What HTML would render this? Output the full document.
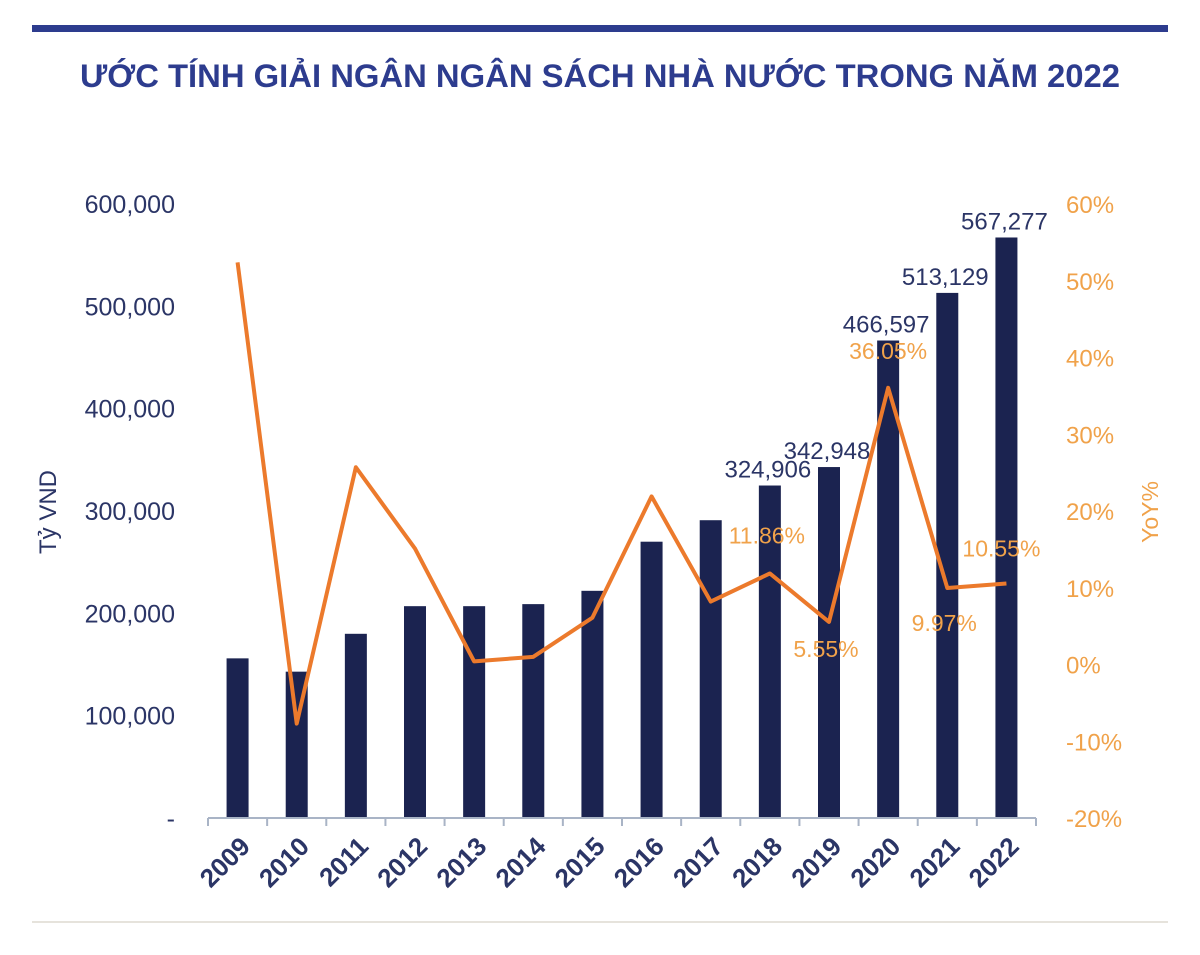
<!DOCTYPE html>
<html><head><meta charset="utf-8">
<style>
html,body{margin:0;padding:0;background:#fff;}
body{width:1200px;height:950px;overflow:hidden;font-family:"Liberation Sans",sans-serif;}
</style></head>
<body>
<svg id="chart" width="1200" height="950" viewBox="0 0 1200 950" xmlns="http://www.w3.org/2000/svg">
<rect x="32" y="25" width="1136" height="7" fill="#2d3c8e"/>
<text x="600" y="87" text-anchor="middle" font-size="32" font-weight="bold" fill="#2d3c8e" textLength="1040" lengthAdjust="spacingAndGlyphs" font-family="Liberation Sans, sans-serif">ƯỚC TÍNH GIẢI NGÂN NGÂN SÁCH NHÀ NƯỚC TRONG NĂM 2022</text>
<line x1="32" y1="922" x2="1168" y2="922" stroke="#e6e3dc" stroke-width="2"/>
<g id="plot"></g>
</svg>
<script>
const years = ['2009','2010','2011','2012','2013','2014','2015','2016','2017','2018','2019','2020','2021','2022'];
const budget = [156000,143000,180000,207000,207000,209000,222000,270000,291000,324906,342948,466597,513129,567277];
const yoy = [52.4,-7.7,25.7,15.1,0.4,1.0,6.1,21.9,8.2,11.86,5.55,36.05,9.97,10.55];
const budgetLabels = ['','','','','','','','','','324,906','342,948','466,597','513,129','567,277'];
const yoyLabels = ['','','','','','','','','','11.86%','5.55%','36.05%','9.97%','10.55%'];
const leftTicks = [0,100000,200000,300000,400000,500000,600000];
const leftTickLabels = ['-','100,000','200,000','300,000','400,000','500,000','600,000'];
const rightTicks = [-20,-10,0,10,20,30,40,50,60];
const rightTickLabels = ['-20%','-10%','0%','10%','20%','30%','40%','50%','60%'];

const NS='http://www.w3.org/2000/svg';
const g=document.getElementById('plot');
const x0=208,x1=1036,yBase=818,yTop=204;
const step=(x1-x0)/years.length;
const xc=i=>x0+step*(i+0.5);
const yL=v=>yBase-(v/600000)*(yBase-yTop);
const yR=v=>yBase-((v+20)/80)*(yBase-yTop);
function el(t,a,txt){const e=document.createElementNS(NS,t);for(const k in a)e.setAttribute(k,a[k]);if(txt!==undefined)e.textContent=txt;g.appendChild(e);return e;}
const navy='#1b2350',orange='#ec7a2c',olab='#f0a24a';
leftTicks.forEach((v,i)=>{
  const t=el('text',{x:175,y:yL(v)+9,'text-anchor':'end','font-size':25,fill:'#2b3566'},leftTickLabels[i]);
  
  
});
rightTicks.forEach((v,i)=>{
  const t=el('text',{x:1066,y:yR(v)+9,'font-size':24,fill:olab},rightTickLabels[i]);
  
  
});
let t=el('text',{x:0,y:0,transform:'translate(56,512) rotate(-90)','text-anchor':'middle','font-size':24,fill:'#2b3566'},'Tỷ VND');


t=el('text',{x:0,y:0,transform:'translate(1158,512) rotate(-90)','text-anchor':'middle','font-size':23,fill:olab},'YoY%');


budget.forEach((v,i)=>{
  const r=el('rect',{x:xc(i)-11,y:yL(v),width:22,height:yBase-yL(v),fill:navy});
  
  
  if(budgetLabels[i]){
    const l=el('text',{x:xc(i)-2,y:yL(v)-8,'text-anchor':'middle','font-size':24,fill:'#2b3566'},budgetLabels[i]);
    
    
  }
});
let a=el('line',{x1:x0,y1:yBase,x2:x1,y2:yBase,stroke:'#a9b4c6','stroke-width':2});


for(let i=0;i<=years.length;i++){
  const tk=el('line',{x1:x0+step*i,y1:yBase,x2:x0+step*i,y2:yBase+8,stroke:'#a9b4c6','stroke-width':2});
  
  
}
years.forEach((y,i)=>{
  const l=el('text',{x:0,y:0,transform:`translate(${xc(i)+14},${yBase+30}) rotate(-45)`,'text-anchor':'end','font-size':26,'font-weight':'bold',fill:'#2b3566'},y);
  
  
});
const pts=yoy.map((v,i)=>xc(i)+','+yR(v)).join(' ');
const pl=el('polyline',{points:pts,fill:'none',stroke:orange,'stroke-width':4,'stroke-linejoin':'round'});


const off={9:[-3,-30],10:[-3,35],11:[0,-29],12:[-3,43],13:[-5,-27]};
yoy.forEach((v,i)=>{
  if(yoyLabels[i]){
    const o=off[i]||[0,-20];
    const l=el('text',{x:xc(i)+o[0],y:yR(v)+o[1],'text-anchor':'middle','font-size':23,fill:olab},yoyLabels[i]);
    
    
  }
});
</script>
</body></html>
